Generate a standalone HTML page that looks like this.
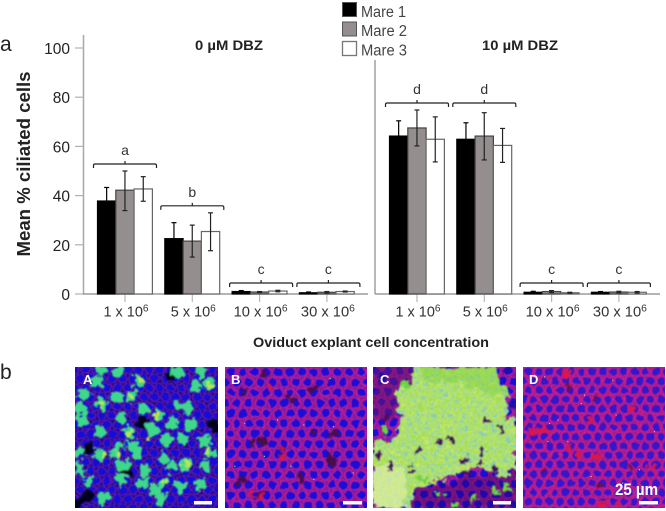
<!DOCTYPE html>
<html>
<head>
<meta charset="utf-8">
<style>
html,body{margin:0;padding:0;background:#fff;}
svg{display:block;}
text{font-family:"Liberation Sans",sans-serif;}
</style>
</head>
<body>
<svg id="fig" width="666" height="511" viewBox="0 0 666 511" xmlns="http://www.w3.org/2000/svg">
<defs>
  <filter id="cellWob" filterUnits="userSpaceOnUse" x="-50" y="-50" width="900" height="700">
    <feTurbulence type="fractalNoise" baseFrequency=".05" numOctaves="2" seed="4" result="n"/>
    <feDisplacementMap in="SourceGraphic" in2="n" scale="14" xChannelSelector="R" yChannelSelector="G"/>
    <feGaussianBlur stdDeviation="1.5"/>
  </filter>
  <filter id="blobWob" filterUnits="userSpaceOnUse" x="-50" y="-50" width="900" height="700">
    <feTurbulence type="fractalNoise" baseFrequency=".045" numOctaves="3" seed="9" result="n"/>
    <feDisplacementMap in="SourceGraphic" in2="n" scale="42" xChannelSelector="R" yChannelSelector="G"/>
    <feGaussianBlur stdDeviation="2.5"/>
  </filter>
  <pattern id="cellsA" width="32" height="56" patternUnits="userSpaceOnUse">
    <rect width="32" height="56" fill="#120a88"/>
    <g fill="#1210d4" stroke="#7a1a9c" stroke-width="2.5"><circle cx="16" cy="14" r="14"/><circle cx="0" cy="42" r="14"/><circle cx="32" cy="42" r="14"/></g>
  </pattern>
  <pattern id="cellsB" width="36" height="62" patternUnits="userSpaceOnUse">
    <rect width="36" height="62" fill="#7a1a98"/>
    <g fill="#1c10d4" stroke="#c8208c" stroke-width="3.5"><circle cx="18" cy="15.5" r="15"/><circle cx="0" cy="46.5" r="15"/><circle cx="36" cy="46.5" r="15"/></g>
  </pattern>
  <pattern id="cellsD" width="32" height="56" patternUnits="userSpaceOnUse">
    <rect width="32" height="56" fill="#9c1c84"/>
    <g fill="#3414c8" stroke="#cc2088" stroke-width="3.5"><circle cx="16" cy="14" r="14"/><circle cx="0" cy="42" r="14"/><circle cx="32" cy="42" r="14"/></g>
  </pattern>
  <pattern id="cellsC" width="22" height="38" patternUnits="userSpaceOnUse">
    <rect width="22" height="38" fill="#a0dc58"/>
    <g fill="#88d0a8" stroke="#d4ee60" stroke-width="3"><circle cx="11" cy="9" r="7.5"/><circle cx="0" cy="28" r="7.5"/><circle cx="22" cy="28" r="7.5"/></g>
  </pattern>
</defs>

<text x="0" y="51" font-size="21" fill="#222">a</text>
<text x="0" y="379" font-size="21" fill="#222">b</text>

<text transform="translate(30,164) rotate(-90)" text-anchor="middle" font-size="18" font-weight="700" fill="#222" textLength="185" lengthAdjust="spacingAndGlyphs">Mean % ciliated cells</text>
<text x="253" y="347" font-size="14" font-weight="700" fill="#222" textLength="236" lengthAdjust="spacingAndGlyphs">Oviduct explant cell concentration</text>
<text x="195" y="50" font-size="14" font-weight="700" fill="#222" textLength="68" lengthAdjust="spacingAndGlyphs">0 µM DBZ</text>
<text x="482" y="50" font-size="14" font-weight="700" fill="#222" textLength="76" lengthAdjust="spacingAndGlyphs">10 µM DBZ</text>

<g>
  <g>
    <rect x="342.5" y="2.5" width="14" height="14" fill="#000" stroke="#555"/>
    <text x="361" y="17" font-size="15.5" fill="#444" textLength="45" lengthAdjust="spacingAndGlyphs">Mare 1</text>
  </g>
  <g>
    <rect x="342.5" y="22" width="14" height="14" fill="#948e8e" stroke="#555"/>
    <text x="361" y="36" font-size="15.5" fill="#444" textLength="46" lengthAdjust="spacingAndGlyphs">Mare 2</text>
  </g>
  <g>
    <rect x="342.5" y="41.5" width="14" height="14" fill="#fff" stroke="#777" stroke-width="1.3"/>
    <text x="361" y="55.5" font-size="15.5" fill="#444" textLength="46" lengthAdjust="spacingAndGlyphs">Mare 3</text>
  </g>
</g>

<g id="chart"></g>

<g>
  <svg x="75" y="367" width="143" height="141" viewBox="224 35 432 426" preserveAspectRatio="none">
    <g filter="url(#cellWob)">
      <rect x="180" y="0" width="520" height="500" fill="url(#cellsA)"/>
    </g>
    <g filter="url(#blobWob)">
      <path fill="none" stroke="#04041e" stroke-width="34" stroke-linecap="round" d="M245 440h.01M262 425h.01M515 60h.01M430 205h.01M640 210h.01M265 280h.01M380 350h.01M230 450h.01"/>
      <path fill="none" stroke="#3ed88a" stroke-width="36" stroke-linecap="round" d="M300 45h.01M355 50h.01M415 80h.01M290 80h.01M630 85h.01M605 48h.01M535 55h.01M590 95h.01M345 125h.01M395 125h.01M305 150h.01M430 160h.01M365 190h.01M480 180h.01M575 210h.01M520 205h.01M245 195h.01M240 160h.01M390 230h.01M455 225h.01M500 255h.01M550 255h.01M300 230h.01M620 260h.01M630 295h.01M355 270h.01M300 300h.01M345 300h.01M370 330h.01M415 300h.01M490 305h.01M560 325h.01M515 335h.01M620 335h.01M435 345h.01M360 375h.01M265 380h.01M430 385h.01M490 385h.01M465 405h.01M545 395h.01M605 390h.01M310 430h.01M485 435h.01M240 295h.01M240 345h.01M395 275h.01M535 155h.01M560 160h.01M250 115h.01"/>
      <path fill="none" stroke="#c4e640" stroke-width="17" stroke-linecap="round" d="M420 75h.01M395 125h.01M390 230h.01M310 300h.01M355 300h.01M560 325h.01M490 385h.01M470 180h.01M625 290h.01M455 250h.01M630 90h.01M300 150h.01"/>
    </g>
  </svg>
  <text x="83" y="384" font-size="13" font-weight="700" fill="#fff">A</text>
  <rect x="194" y="501" width="18" height="3.5" fill="#fff"/>
</g>

<g>
  <svg x="225" y="367" width="142" height="141" viewBox="0 0 432 426" preserveAspectRatio="none">
    <g filter="url(#cellWob)">
      <rect x="-40" y="-40" width="520" height="510" fill="url(#cellsB)"/>
    </g>
    <g filter="url(#blobWob)">
      <path fill="none" stroke="#4a1048" stroke-width="24" stroke-linecap="round" d="M120 20h.01M60 70h.01M205 100h.01M265 70h.01M330 200h.01M115 225h.01M85 225h.01M175 250h.01M320 280h.01M50 345h.01M105 385h.01M230 340h.01M270 195h.01M325 290h.01"/>
      <path fill="none" stroke="#d8183c" stroke-width="15" stroke-linecap="round" d="M175 250h.01M175 270h.01M110 395h.01M85 390h.01M140 60h.01"/>
    </g>
    <path fill="none" stroke="#70e0d8" stroke-width="4" stroke-linecap="round" d="M160 160h.01M320 35h.01M240 175h.01M120 270h.01M330 180h.01M30 300h.01M200 300h.01M270 340h.01M390 320h.01M60 170h.01"/>
  </svg>
  <text x="231" y="384" font-size="13" font-weight="700" fill="#fff">B</text>
  <rect x="343" y="501" width="19" height="3.5" fill="#fff"/>
</g>

<g>
  <svg x="373" y="367" width="143" height="141" viewBox="100 35 427 425" preserveAspectRatio="none">
    <g filter="url(#cellWob)">
      <rect x="60" y="0" width="510" height="500" fill="url(#cellsB)"/>
    </g>
    <g filter="url(#blobWob)">
      <polygon fill="#6a1468" opacity=".55" points="100,35 230,35 170,180 100,200"/>
      <polygon fill="#2a0c50" opacity=".35" points="220,400 527,340 527,460 200,460"/>
    </g>
    <g filter="url(#blobWob)">
      <polygon fill="url(#cellsC)" points="220,35 470,35 480,75 505,130 500,190 527,190 527,345 490,365 440,345 380,345 320,375 260,385 225,410 205,460 100,460 100,265 165,250 185,190 165,115 215,80"/>
      <polygon fill="#e6eeb0" opacity=".6" points="100,340 165,320 200,380 195,460 100,460"/>
      <polygon fill="#70cc30" opacity=".35" points="240,35 470,35 500,120 460,120 350,80 260,90"/>
      <path fill="none" stroke="#48105c" stroke-width="20" stroke-linecap="round" d="M440 200h.01M482 228h.01M295 258h.01M330 254h.01M235 288h.01M430 290h.01M370 315h.01M420 325h.01M380 355h.01M465 345h.01M155 335h.01M215 345h.01M115 300h.01M135 190h.01"/>
      <path fill="none" stroke="#1c10a8" stroke-width="24" stroke-linecap="round" d="M515 150h.01M500 40h.01M130 70h.01"/>
      <path fill="none" stroke="#6cd440" stroke-width="22" stroke-linecap="round" d="M345 445h.01M465 410h.01M245 370h.01M195 90h.01M135 230h.01M500 400h.01M300 420h.01M400 425h.01"/>
    </g>
  </svg>
  <text x="380" y="384" font-size="13" font-weight="700" fill="#fff">C</text>
  <rect x="493" y="501" width="18" height="3.5" fill="#fff"/>
</g>

<g>
  <svg x="523" y="367" width="142" height="141" viewBox="0 0 427 425" preserveAspectRatio="none">
    <g filter="url(#cellWob)">
      <rect x="-40" y="-40" width="510" height="510" fill="url(#cellsD)"/>
    </g>
    <g filter="url(#blobWob)">
      <path fill="none" stroke="#d81850" stroke-width="24" stroke-linecap="round" d="M140 240h.01M165 265h.01M220 270h.01M30 200h.01M60 190h.01M330 130h.01M200 160h.01M390 300h.01M130 20h.01M290 420h.01M240 420h.01"/>
      <path fill="none" stroke="#701040" stroke-width="18" stroke-linecap="round" d="M140 60h.01M215 95h.01M60 310h.01M320 300h.01M230 355h.01"/>
    </g>
    <path fill="none" stroke="#f0e0a0" stroke-width="3.5" stroke-linecap="round" d="M80 170h.01M105 160h.01M185 85h.01M280 145h.01M135 225h.01M75 225h.01M395 195h.01M205 330h.01M350 310h.01M270 40h.01M65 30h.01M300 350h.01M175 110h.01"/>
  </svg>
  <text x="529" y="384" font-size="13" font-weight="700" fill="#fff">D</text>
  <text x="615" y="495" font-size="17" font-weight="700" fill="#fff" textLength="43" lengthAdjust="spacingAndGlyphs">25 µm</text>
  <rect x="639" y="501" width="19" height="3.5" fill="#fff"/>
</g>

<script>
var concentrations = ["1 x 10", "5 x 10", "10 x 10", "30 x 10"];
var mares = ["mare-1", "mare-2", "mare-3"];
var yTicks = [0, 20, 40, 60, 80, 100];
var means0 = [[37.8, 42.2, 42.7], [22.5, 21.5, 25.4], [1.0, 0.8, 1.2], [0.5, 0.7, 1.0]];
var upper0 = [[43.3, 50.0, 47.7], [29.0, 28.0, 33.0], [1.4, 1.0, 1.5], [0.8, 1.0, 1.2]];
var lower0 = [[32.3, 33.9, 37.7], [16.0, 15.0, 17.6], [0.6, 0.6, 0.9], [0.2, 0.4, 0.8]];
var means10 = [[64.2, 67.5, 62.9], [62.9, 64.2, 60.4], [0.7, 1.0, 0.5], [0.7, 0.8, 0.7]];
var upper10 = [[70.4, 74.8, 72.0], [69.6, 73.7, 67.3], [1.1, 1.4, 0.7], [1.0, 1.1, 1.0]];
var lower10 = [[58.0, 60.2, 53.7], [56.2, 54.5, 53.5], [0.3, 0.6, 0.3], [0.4, 0.5, 0.4]];
var letters0 = ["a", "b", "c", "c"];
var letters10 = ["d", "d", "c", "c"];

var NS = "http://www.w3.org/2000/svg";
var chart = document.getElementById("chart");
var fills = ["#000000", "#948e8e", "#ffffff"];
var strokes = ["#000000", "#444444", "#666666"];

function y(v) { return 294 - v * 2.46; }
function groupCenter(panel, g) { return (panel === 0 ? 125 : 417) + g * 67.3; }
function barX(panel, g, m) { return groupCenter(panel, g) - 27.5 + m * 18.3; }

function make(tag, attrs, parent) {
  var el = document.createElementNS(NS, tag);
  for (var k in attrs) { el.setAttribute(k, attrs[k]); }
  (parent || chart).appendChild(el);
  return el;
}
function lineEl(x1, y1, x2, y2, color, w, parent) {
  return make("line", { x1: x1, y1: y1, x2: x2, y2: y2, stroke: color, "stroke-width": w }, parent);
}

var leftAxis = lineEl(83.5, 35, 83.5, 294, "#a8a8a8", 1.5);


var rightAxis = lineEl(375, 60, 375, 294, "#888888", 1.2);


var baseL = lineEl(83, 294, 368, 294, "#888888", 1.3);


var baseR = lineEl(375, 294, 660, 294, "#888888", 1.3);



yTicks.forEach(function (t) {
  var mark = lineEl(75, y(t), 83, y(t), "#b0b0b0", 1.2);
  
  
  var label = make("text", { x: 70, y: y(t) + 6, "text-anchor": "end", "font-size": 15.5, fill: "#222" });
  label.textContent = String(t);
  
  
});

function drawPanel(panel, means, upper, lower, letters) {
  means.forEach(function (group, g) {
    var cx = groupCenter(panel, g);
    var tick = lineEl(cx, 294, cx, 302, "#b8b8b8", 1.2);
    
    

    var label = make("text", { x: cx + 1, y: 316.5, "text-anchor": "middle", "font-size": 15, fill: "#333", textLength: g < 2 ? 45 : 54, lengthAdjust: "spacingAndGlyphs" });
    
    
    label.appendChild(document.createTextNode(concentrations[g]));
    var sup = make("tspan", { dy: -5, "font-size": 10.5 }, label);
    sup.textContent = "6";

    group.forEach(function (v, m) {
      var bx = barX(panel, g, m);
      var bar = make("rect", { x: bx, y: y(v), width: 18.3, height: 294 - y(v), fill: fills[m], stroke: strokes[m], "stroke-width": 1.2 });
      
      
      var ex = bx + 9.15;
      var errorColor = m === 0 ? "#000000" : "#222222";
      var stem = lineEl(ex, y(upper[g][m]), ex, y(lower[g][m]), errorColor, 1.2);
      
      
      var capTop = lineEl(ex - 2.5, y(upper[g][m]), ex + 2.5, y(upper[g][m]), errorColor, 1.2);
      
      
      var capLow = lineEl(ex - 2.5, y(lower[g][m]), ex + 2.5, y(lower[g][m]), errorColor, 1.2);
      
      
    });

    var maxTop = Math.max.apply(null, upper[g]);
    var by = y(maxTop) - 7;
    if (maxTop < 5) { by = 283; }
    if (panel === 1 && g < 2) { by = 103; }
    var half = 31.5;
    var bcx = cx + (panel === 0 && g >= 2 ? 1.5 : 0);
    var bracket = make("path", {
      d: "M" + (bcx - half) + " " + (by + 4) + "V" + (by + 1.5) + "Q" + (bcx - half) + " " + by + " " + (bcx - half + 1.5) + " " + by +
         "H" + (bcx + half - 1.5) + "Q" + (bcx + half) + " " + by + " " + (bcx + half) + " " + (by + 1.5) + "V" + (by + 4) +
         "M" + bcx + " " + by + "V" + (by - 3),
      fill: "none", stroke: "#222222", "stroke-width": 1.2
    });
    
    
    var letter = make("text", { x: bcx, y: by - 9, "text-anchor": "middle", "font-size": 14, fill: "#333" });
    letter.textContent = letters[g];
    
    
  });
}
drawPanel(0, means0, upper0, lower0, letters0);
drawPanel(1, means10, upper10, lower10, letters10);
</script>
</svg>
</body>
</html>
